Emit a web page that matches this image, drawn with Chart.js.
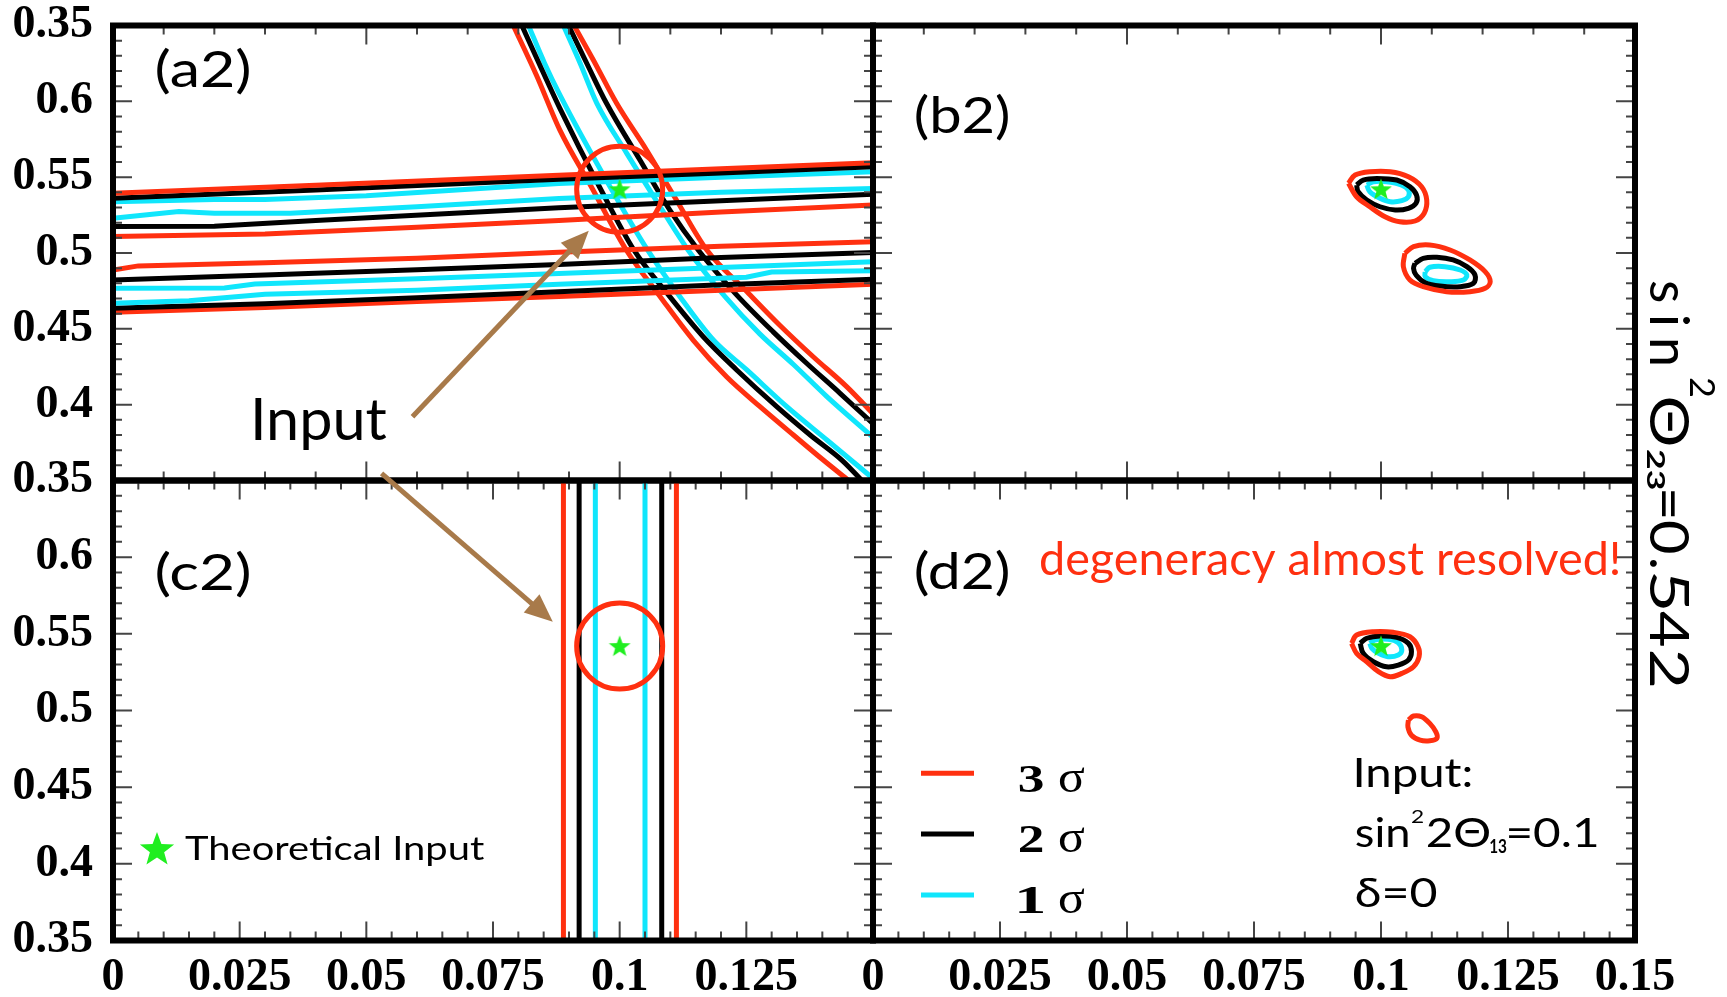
<!DOCTYPE html>
<html>
<head>
<meta charset="utf-8">
<title>sin²θ23=0.542 panels</title>
<script src="https://cdn.jsdelivr.net/npm/chart.js@4.4.1/dist/chart.umd.min.js"></script>
<style>
html,body{margin:0;padding:0;background:#fff;}
#wrap{position:relative;width:1727px;height:997px;overflow:hidden;background:#fff}
#wrap canvas{position:absolute;left:0;top:0}
</style>
</head>
<body>
<div id="wrap">
<canvas id="pa" width="1727" height="997"></canvas>
<canvas id="pb" width="1727" height="997"></canvas>
<canvas id="pc" width="1727" height="997"></canvas>
<canvas id="pd" width="1727" height="997"></canvas>
</div>
<script>
// ---------------- data ----------------
const xTickLabelsLeft  = ['0','0.025','0.05','0.075','0.1','0.125',''];
const xTickLabelsRight = ['0','0.025','0.05','0.075','0.1','0.125','0.15'];
const yTickLabelsTop    = ['0.35','0.4','0.45','0.5','0.55','0.6','0.35'];
const yTickLabelsBottom = ['0.35','0.4','0.45','0.5','0.55','0.6',''];
const sigmaLabels = ['3','2','1'];
const inputPoint = [[0.1, 0.542]];

// (a2) nearly horizontal bands
const a2Red1   = [[0,0.5394],[0.04,0.5447],[0.088,0.5512],[0.12,0.5555],[0.15,0.5595]];
const a2Black1 = [[0,0.5361],[0.04,0.5416],[0.088,0.5486],[0.12,0.5528],[0.15,0.5569]];
const a2Cyan1  = [[0,0.5338],[0.02,0.5352],[0.03,0.5352],[0.05,0.5378],[0.088,0.5458],[0.12,0.5500],[0.15,0.5536]];
const a2Cyan2  = [[0,0.5229],[0.013,0.5273],[0.02,0.5262],[0.035,0.5262],[0.06,0.5305],[0.088,0.5360],[0.12,0.5400],[0.15,0.5426]];
const a2Black2 = [[0,0.5174],[0.02,0.5176],[0.04,0.5215],[0.088,0.5299],[0.12,0.5345],[0.15,0.5387]];
const a2Red2   = [[0,0.5108],[0.03,0.5125],[0.06,0.5170],[0.088,0.5215],[0.12,0.5270],[0.15,0.5317]];
const a2Red3   = [[0,0.4888],[0.005,0.4915],[0.03,0.4935],[0.06,0.4965],[0.088,0.5005],[0.12,0.5045],[0.15,0.5075]];
const a2Black3 = [[0,0.4822],[0.03,0.4855],[0.06,0.4890],[0.088,0.4924],[0.12,0.4970],[0.15,0.5004]];
const a2Cyan3  = [[0,0.4767],[0.022,0.4770],[0.028,0.4795],[0.06,0.4830],[0.088,0.4865],[0.12,0.4905],[0.15,0.4943]];
const a2Cyan4  = [[0,0.4668],[0.015,0.4685],[0.03,0.4728],[0.06,0.4755],[0.088,0.4794],[0.125,0.4840],[0.13,0.4875],[0.15,0.4883]];
const a2Black4 = [[0,0.4635],[0.03,0.4665],[0.06,0.4705],[0.088,0.4745],[0.12,0.4790],[0.15,0.4827]];
const a2Red4   = [[0,0.4609],[0.03,0.4640],[0.06,0.4680],[0.088,0.4714],[0.12,0.4755],[0.15,0.4794]];
// (a2) falling curves
const a2RedL   = [[0.0790,0.65],[0.0836,0.617],[0.0882,0.581],[0.0944,0.5437],[0.1013,0.502],[0.1080,0.4712],[0.1145,0.4426],[0.1211,0.4184],[0.1277,0.3987],[0.1343,0.3800],[0.1400,0.3640],[0.1452,0.35]];
const a2BlackL = [[0.0807,0.65],[0.0845,0.622],[0.0882,0.5954],[0.0960,0.5437],[0.1028,0.502],[0.1099,0.4712],[0.1165,0.4448],[0.1231,0.4229],[0.1310,0.3987],[0.1376,0.3800],[0.1440,0.3630],[0.1478,0.35]];
const a2CyanL  = [[0.0820,0.65],[0.0852,0.625],[0.0882,0.6042],[0.0981,0.5437],[0.1055,0.502],[0.1119,0.4712],[0.1185,0.4426],[0.1251,0.4229],[0.1330,0.3987],[0.1409,0.3767],[0.1496,0.3525]];
const a2CyanR  = [[0.0889,0.65],[0.0922,0.6251],[0.0955,0.5987],[0.1014,0.5657],[0.1080,0.5305],[0.1135,0.502],[0.1208,0.4712],[0.1277,0.4465],[0.1343,0.4265],[0.1409,0.4053],[0.15,0.3785]];
const a2BlackR = [[0.0899,0.65],[0.0935,0.6251],[0.0974,0.5987],[0.1040,0.5613],[0.1099,0.5283],[0.1155,0.502],[0.1228,0.4734],[0.1303,0.4480],[0.1369,0.4273],[0.1435,0.4075],[0.15,0.3875]];
const a2RedR   = [[0.0910,0.65],[0.0948,0.6273],[0.0994,0.5987],[0.1053,0.5679],[0.1112,0.5349],[0.1172,0.502],[0.1248,0.4756],[0.1316,0.4524],[0.1382,0.4316],[0.1448,0.4119],[0.15,0.394]];

// (b2) closed contours
const b2RedUp   = [[0.0936,0.5460],[0.0949,0.5514],[0.0978,0.5536],[0.1018,0.5536],[0.1054,0.5503],[0.1080,0.5437],[0.1090,0.5349],[0.1085,0.5262],[0.1067,0.5211],[0.1037,0.5206],[0.1008,0.5239],[0.0978,0.5305],[0.0952,0.5371]];
const b2BlackUp = [[0.0952,0.5448],[0.0965,0.5481],[0.0992,0.5492],[0.1031,0.5481],[0.1057,0.5437],[0.1070,0.5382],[0.1069,0.5328],[0.1054,0.5295],[0.1028,0.5284],[0.0998,0.5305],[0.0972,0.5349],[0.0955,0.5404]];
const b2CyanUp  = [[0.0972,0.5448],[0.0985,0.5470],[0.1011,0.5470],[0.1041,0.5448],[0.1054,0.5415],[0.1054,0.5371],[0.1041,0.5345],[0.1018,0.5338],[0.0998,0.5361],[0.0978,0.5404]];
const b2RedLow   = [[0.1047,0.4998],[0.1064,0.5042],[0.1096,0.5053],[0.1136,0.5020],[0.1175,0.4954],[0.1205,0.4877],[0.1215,0.4811],[0.1205,0.4767],[0.1175,0.4745],[0.1129,0.4745],[0.1083,0.4778],[0.1057,0.4822],[0.1044,0.4910]];
const b2BlackLow = [[0.1067,0.4932],[0.1083,0.4965],[0.1110,0.4972],[0.1142,0.4954],[0.1169,0.4910],[0.1185,0.4855],[0.1182,0.4800],[0.1156,0.4778],[0.1116,0.4782],[0.1087,0.4804],[0.1069,0.4855],[0.1064,0.4899]];
const b2CyanLow  = [[0.1087,0.4877],[0.1096,0.4906],[0.1126,0.4910],[0.1156,0.4888],[0.1169,0.4855],[0.1162,0.4822],[0.1136,0.4811],[0.1103,0.4817],[0.1087,0.4844]];

// (c2) vertical bands
const c2RedL   = [[0.0889,0.35],[0.0889,0.65]];
const c2BlackL = [[0.0920,0.35],[0.0920,0.65]];
const c2CyanL  = [[0.0952,0.35],[0.0952,0.65]];
const c2CyanR  = [[0.1050,0.35],[0.1050,0.65]];
const c2BlackR = [[0.1083,0.35],[0.1083,0.65]];
const c2RedR   = [[0.1112,0.35],[0.1112,0.65]];

// (d2) closed contours
const d2RedUp   = [[0.0942,0.5438],[0.0952,0.5492],[0.0985,0.5514],[0.1024,0.5510],[0.1057,0.5481],[0.1073,0.5416],[0.1075,0.5351],[0.1064,0.5285],[0.1041,0.5242],[0.1018,0.5220],[0.0995,0.5253],[0.0972,0.5318],[0.0952,0.5373]];
const d2BlackUp = [[0.0959,0.5438],[0.0972,0.5471],[0.0998,0.5486],[0.1031,0.5477],[0.1054,0.5438],[0.1060,0.5383],[0.1054,0.5329],[0.1034,0.5296],[0.1011,0.5285],[0.0985,0.5318],[0.0965,0.5373]];
const d2CyanUp  = [[0.0978,0.5438],[0.0988,0.5460],[0.1014,0.5464],[0.1034,0.5442],[0.1041,0.5394],[0.1034,0.5362],[0.1014,0.5351],[0.0995,0.5373],[0.0982,0.5405]];
const d2RedLow  = [[0.1054,0.4938],[0.1064,0.4964],[0.1080,0.4959],[0.1096,0.4916],[0.1108,0.4861],[0.1110,0.4818],[0.1096,0.4803],[0.1077,0.4807],[0.1060,0.4839],[0.1053,0.4893]];

// ---------------- style ----------------
const RED='#ff3010', BLACK='#000000', CYAN='#10e6fc', GREEN='#20ee20', BROWN='#a87a4a';
const W=1727, H=997;
const G={left:113, mid:873, right:1635, top:25.5, hmid:480.5, bottom:940.5};
const TICKFONT={family:'"Liberation Serif","Times New Roman",serif', weight:'bold', size:46, lineHeight:1};
const SANS='Lato, "Open Sans", sans-serif';

const pts = arr => arr.map(([x,y])=>({x,y}));
function lineDS(arr,color,mode){const d={data:pts(arr),showLine:true,borderColor:color,borderWidth:5,pointRadius:0,tension:0,fill:false,order:10};
  if(mode==='mono'){d.cubicInterpolationMode='monotone';d.tension=0.4;}return d;}
function loopDS(arr,color){const d=lineDS(arr.concat([arr[0]]),color);d.tension=0.35;return d;}

function starPath(ctx,cx,cy,R,r){ctx.beginPath();for(let i=0;i<10;i++){const a=-Math.PI/2+i*Math.PI/5;const rr=(i%2)?r:R;ctx.lineTo(cx+rr*Math.cos(a),cy+rr*Math.sin(a));}ctx.closePath();}
const starImg=document.createElement('canvas');starImg.width=24;starImg.height=24;
{const c=starImg.getContext('2d');c.fillStyle=GREEN;starPath(c,12,12.8,11.5,4.8);c.fill();}
function starDS(){return {data:pts(inputPoint),showLine:false,pointStyle:starImg,pointRadius:11,order:0};}
function circleDS(){return {data:pts(inputPoint),showLine:false,pointStyle:'circle',pointRadius:43,pointBorderWidth:5,pointBorderColor:RED,pointBackgroundColor:'rgba(0,0,0,0)',order:1};}

function txt(ctx,s,x,y,font,color,w){
  ctx.save();ctx.font=font;ctx.fillStyle=color;ctx.textBaseline='alphabetic';ctx.textAlign='left';
  const m=ctx.measureText(s);const ink=m.actualBoundingBoxRight+m.actualBoundingBoxLeft;
  ctx.translate(x,y);if(w)ctx.scale(w/ink,1);
  ctx.fillText(s,m.actualBoundingBoxLeft,0);ctx.restore();
}
function arrow(ctx,x1,y1,x2,y2,color){
  const a=Math.atan2(y2-y1,x2-x1),L=28,Wd=12,c=Math.cos(a),s=Math.sin(a);
  ctx.save();ctx.strokeStyle=color;ctx.fillStyle=color;ctx.lineWidth=5;
  ctx.beginPath();ctx.moveTo(x1,y1);ctx.lineTo(x2-L*0.8*c,y2-L*0.8*s);ctx.stroke();
  ctx.beginPath();ctx.moveTo(x2,y2);ctx.lineTo(x2-L*c+Wd*s,y2-L*s-Wd*c);ctx.lineTo(x2-L*c-Wd*s,y2-L*s+Wd*c);ctx.closePath();ctx.fill();
  ctx.restore();
}

function frameTicks(xTop,xBot){
  return {id:'frameTicks',afterDatasetsDraw(chart){
    const {ctx,chartArea:a,scales:{x,y}}=chart;
    ctx.save();ctx.strokeStyle='#444';ctx.lineWidth=2;ctx.beginPath();
    const xt=(step,edge,dir)=>{const n=Math.round((x.max-x.min)/step);for(let i=1;i<n;i++){const p=x.getPixelForValue(x.min+i*step);const len=(i%5===0)?19:9;ctx.moveTo(p,edge);ctx.lineTo(p,edge+dir*len);}};
    const yt=(step,edge,dir)=>{const n=Math.round((y.max-y.min)/step);for(let i=1;i<n;i++){const p=y.getPixelForValue(y.min+i*step);const len=(i%5===0)?19:9;ctx.moveTo(edge,p);ctx.lineTo(edge+dir*len,p);}};
    xt(xTop,a.top,1);xt(xBot,a.bottom,-1);yt(0.01,a.left,1);yt(0.01,a.right,-1);
    ctx.stroke();
    ctx.lineWidth=6;ctx.strokeStyle='#000';ctx.strokeRect(a.left,a.top,a.right-a.left,a.bottom-a.top);
    ctx.restore();
  }};
}
const zeroPad=s=>{s.paddingTop=0;s.paddingBottom=0;s.paddingLeft=0;s.paddingRight=0;};

function makeChart(id,datasets,o){
  const xs={type:'linear',min:0,max:0.15,display:!!o.xLabels,position:'bottom',
    grid:{display:false,drawTicks:false},border:{display:false},
    ticks:{stepSize:0.025,autoSkip:false,maxRotation:0,padding:15,color:'#000',font:TICKFONT,
      callback:(v,i)=>o.xLabels?o.xLabels[i]:''},
    afterFit:s=>{zeroPad(s);s.height=o.xLabels?(H-G.bottom):0;}};
  const ys={type:'linear',min:0.35,max:0.65,display:!!o.yLabels,position:'left',
    grid:{display:false,drawTicks:false},border:{display:false},
    ticks:{stepSize:0.05,autoSkip:false,padding:20,color:'#000',font:TICKFONT,
      callback:(v,i)=>o.yLabels?o.yLabels[i]:''},
    afterFit:s=>{zeroPad(s);s.width=o.yLabels?G.left:0;}};
  return new Chart(document.getElementById(id),{
    type:'scatter',
    data:{datasets},
    options:{responsive:false,animation:false,devicePixelRatio:1,events:[],
      layout:{padding:o.padding,autoPadding:false},
      plugins:{legend:{display:false},tooltip:{enabled:false}},
      scales:{x:xs,y:ys}},
    plugins:[frameTicks(o.xTop,o.xBot),{id:'ann_'+id,afterDraw:o.ann}]
  });
}

// (a2)
const chartA=makeChart('pa',[
  starDS(),circleDS(),
  lineDS(a2Red1,RED),lineDS(a2Black1,BLACK),lineDS(a2Cyan1,CYAN),lineDS(a2Cyan2,CYAN),lineDS(a2Black2,BLACK),lineDS(a2Red2,RED),
  lineDS(a2Red3,RED),lineDS(a2Black3,BLACK),lineDS(a2Cyan3,CYAN),lineDS(a2Cyan4,CYAN),lineDS(a2Black4,BLACK),lineDS(a2Red4,RED),
  lineDS(a2RedL,RED,'mono'),lineDS(a2BlackL,BLACK,'mono'),lineDS(a2CyanL,CYAN,'mono'),lineDS(a2CyanR,CYAN,'mono'),lineDS(a2BlackR,BLACK,'mono'),lineDS(a2RedR,RED,'mono')
],{padding:{left:0,top:G.top,right:W-G.mid,bottom:H-G.hmid},yLabels:yTickLabelsTop,xTop:0.01,xBot:0.01,
  ann:c=>{txt(c.ctx,'(a2)',157,87,'50px '+SANS,'#000',93);}});

// (b2)
const chartB=makeChart('pb',[
  starDS(),
  loopDS(b2RedUp,RED),loopDS(b2BlackUp,BLACK),loopDS(b2CyanUp,CYAN),
  loopDS(b2RedLow,RED),loopDS(b2BlackLow,BLACK),loopDS(b2CyanLow,CYAN)
],{padding:{left:G.mid,top:G.top,right:W-G.right,bottom:H-G.hmid},xTop:0.01,xBot:0.01,
  ann:c=>{const ctx=c.ctx,F='54px '+SANS;
    txt(ctx,'(b2)',916,133,'50px '+SANS,'#000',93);
    ctx.save();ctx.translate(1650,0);ctx.rotate(Math.PI/2);
    txt(ctx,'s',281,0,F,'#000');
    txt(ctx,'i',317,0,F,'#000');
    txt(ctx,'n',340,0,F,'#000');
    txt(ctx,'2',378,-40,'34px '+SANS,'#000',18);
    txt(ctx,'Θ',398,0,F,'#000',47);
    txt(ctx,'23',449,3,'bold 24px '+SANS,'#000',40);
    txt(ctx,'=',491,0,F,'#000',26);
    txt(ctx,'0',521,0,F,'#000',32);
    txt(ctx,'.',560,0,F,'#000');
    txt(ctx,'5',574,0,F,'#000',34);
    txt(ctx,'4',611,0,F,'#000',35);
    txt(ctx,'2',651,0,F,'#000',35);
    ctx.restore();
  }});

// (c2)
const chartC=makeChart('pc',[
  starDS(),circleDS(),
  lineDS(c2RedL,RED),lineDS(c2BlackL,BLACK),lineDS(c2CyanL,CYAN),lineDS(c2CyanR,CYAN),lineDS(c2BlackR,BLACK),lineDS(c2RedR,RED)
],{padding:{left:0,top:G.hmid,right:W-G.mid,bottom:0},xLabels:xTickLabelsLeft,yLabels:yTickLabelsBottom,xTop:0.005,xBot:0.005,
  ann:c=>{const ctx=c.ctx,ax=chartA.scales.x,ay=chartA.scales.y,cx=c.scales.x,cy=c.scales.y;
    txt(ctx,'(c2)',157,590,'50px '+SANS,'#000',93);
    txt(ctx,'Input',255,440,'58px '+SANS,'#000',132);
    arrow(ctx,ax.getPixelForValue(0.0591),ay.getPixelForValue(0.392),ax.getPixelForValue(0.0939),ay.getPixelForValue(0.5147),BROWN);
    arrow(ctx,ax.getPixelForValue(0.0530),ay.getPixelForValue(0.3547),cx.getPixelForValue(0.0868),cy.getPixelForValue(0.5579),BROWN);
    ctx.save();ctx.fillStyle=GREEN;starPath(ctx,157,850,18,7.5);ctx.fill();ctx.restore();
    txt(ctx,'Theoretical Input',185,860,'32px '+SANS,'#000',300);
  }});

// (d2)
const chartD=makeChart('pd',[
  starDS(),
  loopDS(d2RedUp,RED),loopDS(d2BlackUp,BLACK),loopDS(d2CyanUp,CYAN),loopDS(d2RedLow,RED)
],{padding:{left:G.mid,top:G.hmid,right:W-G.right,bottom:0},xLabels:xTickLabelsRight,xTop:0.005,xBot:0.005,
  ann:c=>{const ctx=c.ctx;
    txt(ctx,'(d2)',916,589,'50px '+SANS,'#000',93);
    txt(ctx,'degeneracy almost resolved!',1040,575,'46px '+SANS,RED,579);
    const ly=[773.3,834,895],lb=[791.7,851.7,913.3],lc=[RED,BLACK,CYAN];
    for(let i=0;i<3;i++){
      ctx.save();ctx.strokeStyle=lc[i];ctx.lineWidth=5;ctx.beginPath();ctx.moveTo(921,ly[i]);ctx.lineTo(974,ly[i]);ctx.stroke();ctx.restore();
      txt(ctx,sigmaLabels[i],1019,lb[i],'bold 40px "Liberation Serif",serif','#000',24);
      txt(ctx,'σ',1059,lb[i],'46px "Liberation Serif",serif','#000',26);
    }
    txt(ctx,'Input:',1356,787,'40px '+SANS,'#000',115);
    txt(ctx,'sin',1356,846.7,'40px '+SANS,'#000',52);
    txt(ctx,'2',1411,823,'17px '+SANS,'#000',12);
    txt(ctx,'2Θ',1427,846.7,'40px '+SANS,'#000',63);
    txt(ctx,'13',1490,853,'bold 19px '+SANS,'#000',17);
    txt(ctx,'=0.1',1509,846.7,'40px '+SANS,'#000',88);
    txt(ctx,'δ=0',1356,906.7,'40px '+SANS,'#000',80);
  }});
</script>
</body>
</html>
